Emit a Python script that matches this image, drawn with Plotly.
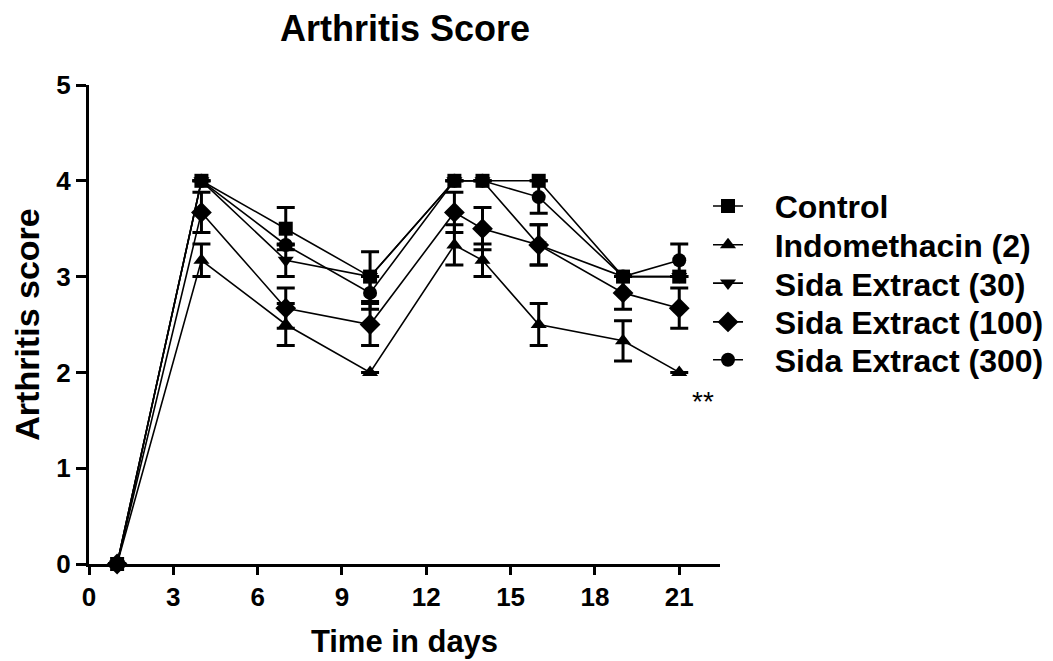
import plotly.graph_objects as go

days = [1, 4, 7, 10, 13, 14, 16, 19, 21]

control = [0, 4.0, 3.5, 3.0, 4.0, 4.0, 4.0, 3.0, 3.0]
control_err = [0, 0, 0.22, 0, 0, 0, 0, 0, 0]

indo = [0, 3.17, 2.5, 2.0, 3.33, 3.17, 2.5, 2.33, 2.0]
indo_err = [0, 0.17, 0.22, 0, 0.21, 0.17, 0.22, 0.21, 0]

sida30 = [0, 4.0, 3.17, 3.0, 4.0, 4.0, 3.33, 3.0, 3.0]
sida30_err = [0, 0, 0.17, 0.26, 0, 0, 0.21, 0, 0]

sida100 = [0, 3.67, 2.67, 2.5, 3.67, 3.5, 3.33, 2.83, 2.67]
sida100_err = [0, 0.21, 0.21, 0.22, 0.21, 0.22, 0.21, 0.17, 0.21]

sida300 = [0, 4.0, 3.33, 2.83, 4.0, 4.0, 3.83, 3.0, 3.17]
sida300_err = [0, 0, 0, 0.17, 0, 0, 0.17, 0, 0.17]

series_names = ["Control", "Indomethacin (2)", "Sida Extract (30)",
                "Sida Extract (100)", "Sida Extract (300)"]
series_values = [control, indo, sida30, sida100, sida300]
series_errors = [control_err, indo_err, sida30_err, sida100_err, sida300_err]
symbols = ["square", "triangle-up", "triangle-down", "diamond", "circle"]
sizes = [14, 14, 14, 16, 14]

x_ticks = [0, 3, 6, 9, 12, 15, 18, 21]
y_ticks = [0, 1, 2, 3, 4, 5]

FONT = "Arial, Liberation Sans, sans-serif"

# vertical position (paper) of each legend row
legend_rows = [0.747, 0.666, 0.586, 0.505, 0.426]

fig = go.Figure()
legend_ids = ["legend", "legend2", "legend3", "legend4", "legend5"]
GAP = "\u00a0\u00a0\u00a0"
for i, (name, vals, errs, sym, sz) in enumerate(zip(series_names, series_values, series_errors, symbols, sizes)):
    fig.add_trace(go.Scatter(
        x=days, y=vals, name=GAP + name, mode="lines+markers",
        line=dict(color="black", width=1.6),
        marker=dict(symbol=sym, size=sz, color="black"),
        error_y=dict(type="data", array=errs, visible=True, color="black",
                     thickness=3, width=9),
        legend=legend_ids[i],
        cliponaxis=False,
    ))

fig.add_annotation(x=21.85, y=1.7, text="**", showarrow=False,
                   font=dict(family=FONT, size=28, color="black"),
                   xref="x", yref="y", xanchor="center", yanchor="middle")

legend_common = dict(x=0.981, xanchor="left", yanchor="middle",
                     font=dict(family=FONT, size=32, color="black", weight="bold"),
                     bgcolor="rgba(0,0,0,0)", itemwidth=30)

layout_legends = {}
for lid, ypos in zip(legend_ids, legend_rows):
    layout_legends[lid] = dict(y=ypos, **legend_common)

fig.update_layout(
    width=1053, height=661,
    margin=dict(l=81, r=339, t=77, b=105),
    paper_bgcolor="white", plot_bgcolor="white",
    font=dict(family=FONT, color="black"),
    title=dict(text="<b>Arthritis Score</b>", x=397/1053, xanchor="center",
               y=1 - 20/661, yanchor="middle",
               font=dict(family=FONT, size=36, color="black")),
    showlegend=True,
    **layout_legends,
)

fig.update_xaxes(
    range=[0, 22.45], tickvals=x_ticks, ticktext=[str(t) for t in x_ticks],
    showline=True, linecolor="black", linewidth=3, ticks="outside",
    tickwidth=3, ticklen=8, tickcolor="black", showgrid=False, zeroline=False,
    tickfont=dict(family=FONT, size=26, color="black", weight="bold"),
    title=dict(text="<b>Time in days</b>", font=dict(family=FONT, size=31, color="black"),
               standoff=20),
)
fig.update_yaxes(
    range=[0, 5], tickvals=y_ticks, ticktext=[str(t) for t in y_ticks],
    showline=True, linecolor="black", linewidth=3, ticks="outside",
    tickwidth=3, ticklen=10, tickcolor="black", showgrid=False, zeroline=False,
    tickfont=dict(family=FONT, size=26, color="black", weight="bold"),
    title=dict(text="<b>Arthritis score</b>", font=dict(family=FONT, size=34, color="black"),
               standoff=13),
)

fig.write_html("out.html")
